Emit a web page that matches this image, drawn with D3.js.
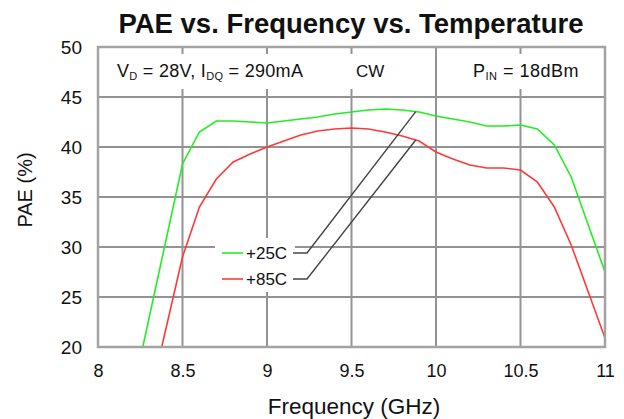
<!DOCTYPE html>
<html><head><meta charset="utf-8">
<script src="https://cdn.jsdelivr.net/npm/d3@7"></script>
<style>
body{margin:0;background:#fff}
text{font-family:"Liberation Sans",Arial,sans-serif;fill:#111}
</style>
</head><body>
<svg id="c" width="624" height="419"></svg>
<script>
// ---- data ----
const freq25 = [8.265, 8.5, 8.6, 8.7, 8.8, 8.9, 9.0, 9.1, 9.2, 9.3, 9.4, 9.5, 9.6, 9.7, 9.8, 9.9, 10.0, 10.1, 10.2, 10.3, 10.4, 10.5, 10.6, 10.7, 10.8, 11.0];
const pae25  = [20.0, 38.3, 41.5, 42.6, 42.6, 42.5, 42.4, 42.6, 42.8, 43.0, 43.3, 43.5, 43.7, 43.8, 43.7, 43.5, 43.1, 42.8, 42.5, 42.1, 42.1, 42.2, 41.8, 40.2, 37.0, 27.5];
const freq85 = [8.377, 8.5, 8.6, 8.7, 8.8, 8.9, 9.0, 9.1, 9.2, 9.3, 9.4, 9.5, 9.6, 9.7, 9.8, 9.9, 10.0, 10.1, 10.2, 10.3, 10.4, 10.5, 10.6, 10.7, 10.8, 11.0];
const pae85  = [20.0, 29.0, 34.0, 36.8, 38.5, 39.3, 40.0, 40.6, 41.2, 41.6, 41.8, 41.9, 41.8, 41.5, 41.1, 40.6, 39.5, 38.8, 38.2, 37.9, 37.9, 37.7, 36.5, 34.0, 30.2, 20.9];
const seriesNames = ["+25C", "+85C"];
const seriesColors = ["#22ee22", "#ff3838"];
const xTicks = [8, 8.5, 9, 9.5, 10, 10.5, 11];
const yTicks = [20, 25, 30, 35, 40, 45, 50];
const titleText = "PAE vs. Frequency vs. Temperature";
const xTitle = "Frequency (GHz)";
const yTitle = "PAE (%)";
const leaderFreq = 9.88; // where the legend leaders touch the curves

// ---- layout ----
const svg = d3.select("#c");
const L = 98, R = 605, T = 47, B = 347;
const x = d3.scaleLinear().domain([8, 11]).range([L, R]);
const y = d3.scaleLinear().domain([20, 50]).range([B, T]);

// title
svg.append("text").attr("x", 351).attr("y", 33).attr("text-anchor", "middle")
  .style("font-size", "27.5px").style("font-weight", "bold").text(titleText);

// grid
const grid = svg.append("g");
grid.selectAll("line.v").data(xTicks.slice(1, -1)).join("line")
  .attr("x1", d => x(d)).attr("x2", d => x(d)).attr("y1", T).attr("y2", B)
  .attr("stroke", "#939393").attr("stroke-width", 2);
grid.selectAll("line.h").data(yTicks.slice(1, -1)).join("line")
  .attr("x1", L).attr("x2", R).attr("y1", d => y(d)).attr("y2", d => y(d))
  .attr("stroke", "#939393").attr("stroke-width", 2);

// white boxes behind annotations
svg.append("rect").attr("x", 110).attr("y", 54).attr("width", 202).attr("height", 35).attr("fill", "#fff");
svg.append("rect").attr("x", 348).attr("y", 54).attr("width", 42).attr("height", 35).attr("fill", "#fff");
svg.append("rect").attr("x", 466).attr("y", 54).attr("width", 122).attr("height", 35).attr("fill", "#fff");
svg.append("rect").attr("x", 215).attr("y", 238).attr("width", 80).attr("height", 54).attr("fill", "#fff");

// curves
svg.append("clipPath").attr("id", "clip").append("rect")
  .attr("x", L).attr("y", T).attr("width", R - L).attr("height", B - T);
const line = d3.line().x(d => x(d[0])).y(d => y(d[1]));
const series = [d3.zip(freq25, pae25), d3.zip(freq85, pae85)];
svg.append("g").attr("clip-path", "url(#clip)").selectAll("path").data(series).join("path")
  .attr("d", line).attr("fill", "none")
  .attr("stroke", (d, i) => seriesColors[i]).attr("stroke-width", 1.6);

// frame
svg.append("rect").attr("x", L).attr("y", T).attr("width", R - L).attr("height", B - T)
  .attr("fill", "none").attr("stroke", "#a3a3a3").attr("stroke-width", 2.5);

// axes (labels only)
const xAxis = d3.axisBottom(x).tickValues(xTicks).tickSize(0).tickPadding(0).tickFormat(d => String(d));
const gx = svg.append("g").attr("transform", `translate(0,${B})`).call(xAxis);
gx.select(".domain").remove();
gx.selectAll("text").attr("dy", 0).attr("y", 30).style("font-size", "18px").attr("fill", "#111");
const yAxis = d3.axisLeft(y).tickValues(yTicks).tickSize(0).tickPadding(0).tickFormat(d => String(d));
const gy = svg.append("g").attr("transform", `translate(${L},0)`).call(yAxis);
gy.select(".domain").remove();
gy.selectAll("text").attr("x", -16).attr("dy", "0.36em").style("font-size", "19px").attr("fill", "#111");

svg.append("text").attr("x", 354).attr("y", 414).attr("text-anchor", "middle")
  .style("font-size", "22.5px").text(xTitle);
svg.append("text").attr("transform", "translate(32,190) rotate(-90)").attr("text-anchor", "middle")
  .style("font-size", "20px").text(yTitle);

// annotations
const a1 = svg.append("text").attr("x", 117).attr("y", 77).style("font-size", "18px").style("letter-spacing", "0.3px");
a1.append("tspan").text("V");
a1.append("tspan").attr("dy", 3).style("font-size", "11px").text("D");
a1.append("tspan").attr("dy", -3).text(" = 28V, I");
a1.append("tspan").attr("dy", 3).style("font-size", "11px").text("DQ");
a1.append("tspan").attr("dy", -3).text(" = 290mA");
svg.append("text").attr("x", 356).attr("y", 77).style("font-size", "17px").text("CW");
const a3 = svg.append("text").attr("x", 473).attr("y", 77).style("font-size", "18px").style("letter-spacing", "0.5px");
a3.append("tspan").text("P");
a3.append("tspan").attr("dy", 3).style("font-size", "11px").text("IN");
a3.append("tspan").attr("dy", -3).text(" = 18dBm");

// legend with leader lines
const legY = [253, 279];
seriesNames.forEach((name, i) => {
  const ly = legY[i];
  svg.append("line").attr("x1", 222).attr("x2", 243).attr("y1", ly).attr("y2", ly)
    .attr("stroke", seriesColors[i]).attr("stroke-width", 1.6);
  svg.append("text").attr("x", 246).attr("y", ly + 6).style("font-size", "17px").text(name);
  const vals = i === 0 ? [freq25, pae25] : [freq85, pae85];
  const ty = d3.scaleLinear().domain(vals[0]).range(vals[1]);
  const ex = x(leaderFreq), ey = y(ty(leaderFreq));
  svg.append("path").attr("d", `M293,${ly}H307L${ex},${ey}`)
    .attr("fill", "none").attr("stroke", "#444").attr("stroke-width", 1.4);
});
</script>
</body></html>
